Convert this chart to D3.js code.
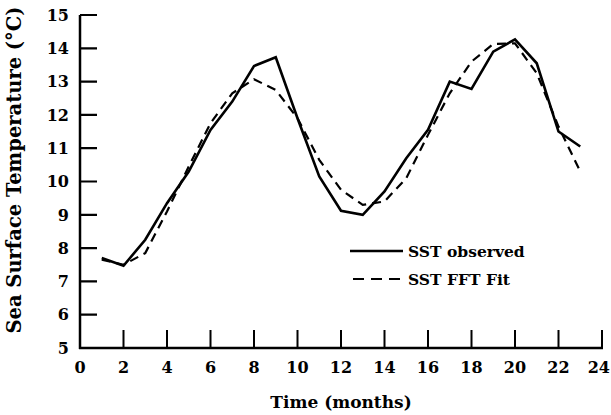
<!DOCTYPE html>
<html>
<head>
<meta charset="utf-8">
<script src="https://cdn.jsdelivr.net/npm/d3@7"></script>
<style>
  body { margin: 0; background: #fff; }
  svg { display: block; }
  text { font-family: "DejaVu Serif", "Liberation Serif", serif; font-weight: bold; fill: #000; }
</style>
</head>
<body>
<div id="chart"></div>
<script>
// data
var months = [1, 2, 3, 4, 5, 6, 7, 8, 9, 10, 11, 12, 13, 14, 15, 16, 17, 18, 19, 20, 21, 22, 23];
var sstObserved = [7.7, 7.47, 8.25, 9.35, 10.3, 11.55, 12.4, 13.47, 13.73, 11.9, 10.15, 9.12, 9.0, 9.7, 10.7, 11.55, 13.0, 12.78, 13.9, 14.27, 13.55, 11.5, 11.05];
var sstFit = [7.65, 7.5, 7.85, 9.1, 10.45, 11.75, 12.65, 13.07, 12.75, 11.9, 10.65, 9.75, 9.3, 9.4, 10.1, 11.4, 12.65, 13.6, 14.13, 14.15, 13.25, 11.65, 10.3];
var xTicks = [0, 2, 4, 6, 8, 10, 12, 14, 16, 18, 20, 22, 24];
var yTicks = [5, 6, 7, 8, 9, 10, 11, 12, 13, 14, 15];
var legendLabels = ["SST observed", "SST FFT Fit"];

var width = 611, height = 415;
var margin = { top: 15, right: 9, bottom: 67, left: 80 };

var svg = d3.select('#chart').append('svg')
    .attr('width', width)
    .attr('height', height);

var x = d3.scaleLinear().domain([0, 24]).range([margin.left, width - margin.right]);
var y = d3.scaleLinear().domain([5, 15]).range([height - margin.bottom, margin.top]);

// tick marks point inward
svg.append('path')
    .attr('d', yTicks.slice(1).map(function(d) {
        return 'M' + x(0) + ',' + y(d) + 'H' + (x(0) + 17);
    }).join(''))
    .attr('fill', 'none')
    .attr('stroke', '#000').attr('stroke-width', 2.2);

svg.append('path')
    .attr('d', xTicks.slice(1).map(function(d) {
        return 'M' + x(d) + ',' + y(5) + 'V' + (y(5) - 18);
    }).join(''))
    .attr('fill', 'none')
    .attr('stroke', '#000').attr('stroke-width', 2);

svg.append('line')
    .attr('x1', x(0)).attr('x2', x(0))
    .attr('y1', y(15)).attr('y2', y(5) + 1)
    .attr('stroke', '#000').attr('stroke-width', 2.5);
svg.append('line')
    .attr('x1', x(0) - 1).attr('x2', x(24) + 1)
    .attr('y1', y(5)).attr('y2', y(5))
    .attr('stroke', '#000').attr('stroke-width', 2.5);

// tick labels
svg.append('g').selectAll('text')
    .data(yTicks)
    .enter().append('text')
    .attr('x', 69)
    .attr('y', function(d) { return y(d); })
    .attr('dy', '0.36em')
    .attr('text-anchor', 'end')
    .style('font-size', '16px')
    .text(function(d) { return d; });

svg.append('g').selectAll('text')
    .data(xTicks)
    .enter().append('text')
    .attr('x', function(d) { return d === 24 ? 610 : x(d); })
    .attr('y', 373)
    .attr('text-anchor', function(d) { return d === 24 ? 'end' : 'middle'; })
    .style('font-size', '16px')
    .text(function(d) { return d; });

// axis titles
svg.append('text')
    .attr('x', x(12))
    .attr('y', 408)
    .attr('text-anchor', 'middle')
    .style('font-size', '17px')
    .text('Time (months)');

svg.append('text')
    .attr('transform', 'translate(21,' + 170 + ') rotate(-90)')
    .attr('text-anchor', 'middle')
    .style('font-size', '19.5px')
    .text('Sea Surface Temperature (°C)');

// series
var line = d3.line()
    .x(function(d) { return x(d[0]); })
    .y(function(d) { return y(d[1]); });

svg.append('path')
    .datum(d3.zip(months, sstFit))
    .attr('d', line)
    .attr('fill', 'none')
    .attr('stroke', '#000')
    .attr('stroke-width', 2.2)
    .attr('stroke-dasharray', '9,6');

svg.append('path')
    .datum(d3.zip(months, sstObserved))
    .attr('d', line)
    .attr('fill', 'none')
    .attr('stroke', '#000')
    .attr('stroke-width', 2.6)
    .attr('stroke-linejoin', 'miter');

// legend
var legend = svg.append('g').attr('transform', 'translate(350,251)');
legend.append('line')
    .attr('x1', 0).attr('x2', 53).attr('y1', 0).attr('y2', 0)
    .attr('stroke', '#000').attr('stroke-width', 2.6);
legend.append('line')
    .attr('x1', 3).attr('x2', 53).attr('y1', 28).attr('y2', 28)
    .attr('stroke', '#000').attr('stroke-width', 2.2)
    .attr('stroke-dasharray', '11,7');
legend.selectAll('text.lab')
    .data(legendLabels)
    .enter().append('text')
    .attr('class', 'lab')
    .attr('x', 58)
    .attr('y', function(d, i) { return i * 28; })
    .attr('dy', '0.36em')
    .style('font-size', '15.5px')
    .text(function(d) { return d; });
</script>
</body>
</html>
